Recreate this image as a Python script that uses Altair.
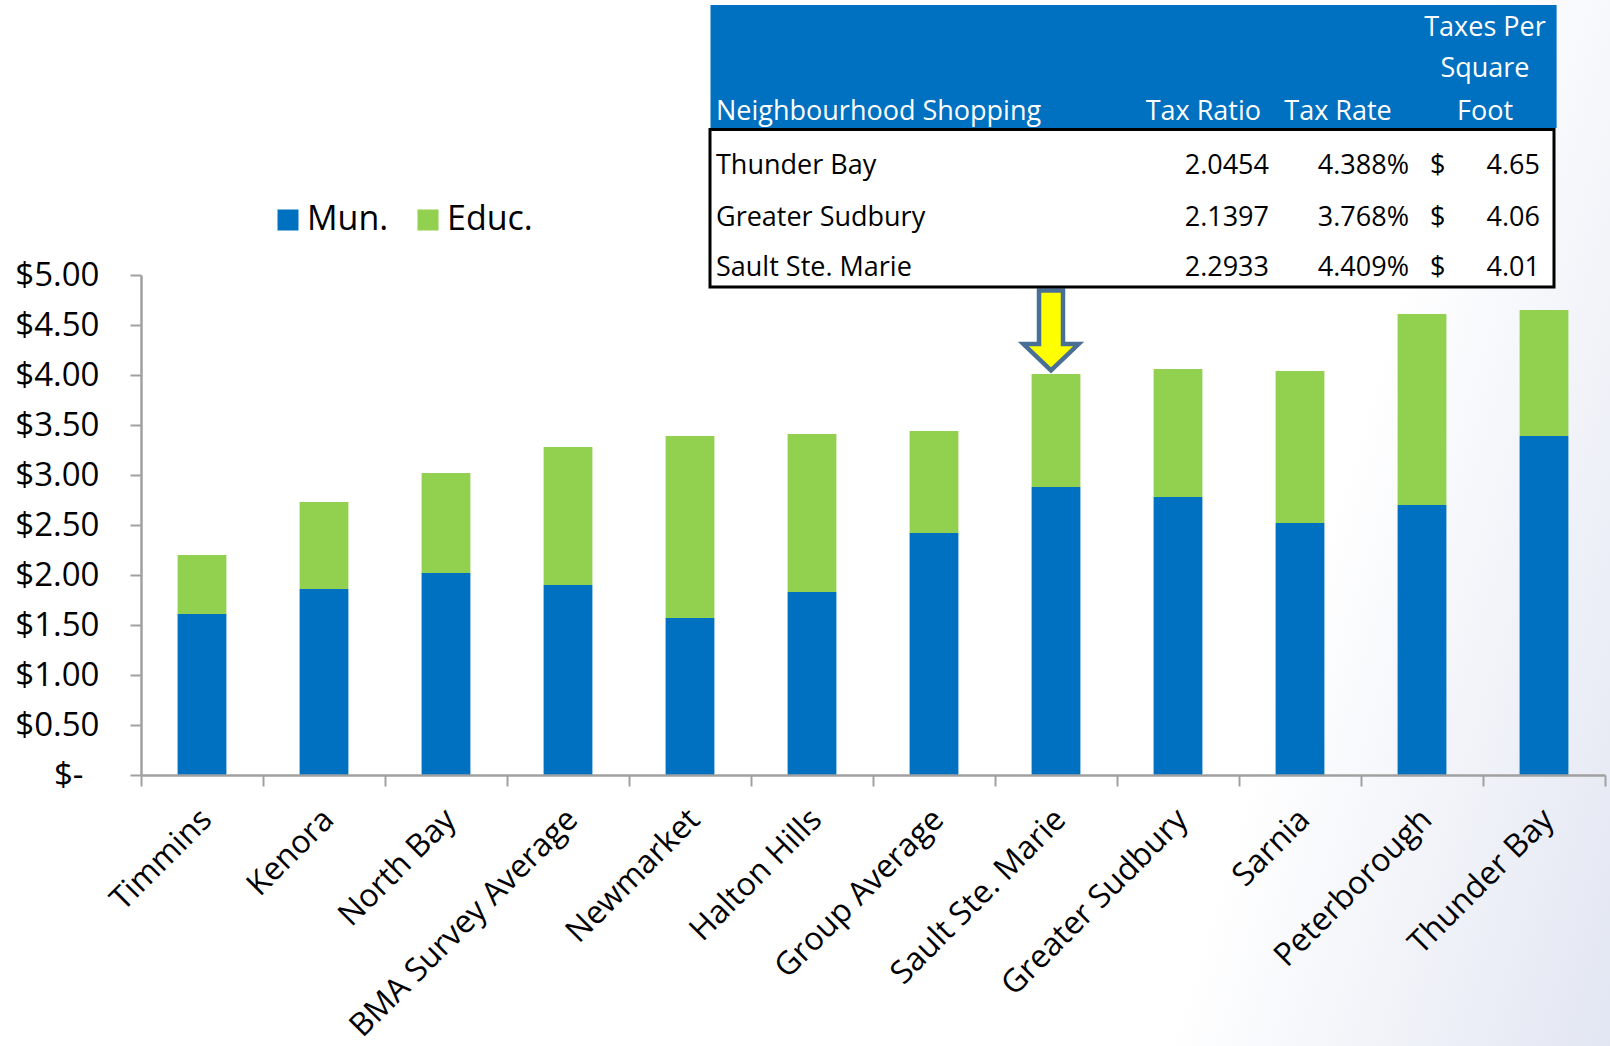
import altair as alt
import pandas as pd

# ---------------- data ----------------
cities = ["Timmins", "Kenora", "North Bay", "BMA Survey Average", "Newmarket",
          "Halton Hills", "Group Average", "Sault Ste. Marie", "Greater Sudbury",
          "Sarnia", "Peterborough", "Thunder Bay"]
mun = [1.61, 1.86, 2.02, 1.90, 1.57, 1.83, 2.42, 2.88, 2.78, 2.52, 2.70, 3.39]
educ = [0.59, 0.87, 1.00, 1.38, 1.82, 1.58, 1.02, 1.13, 1.28, 1.52, 1.91, 1.26]
series = ["Mun.", "Educ."]
series_colors = ["#0070C0", "#92D050"]
y_ticks = [0.0, 0.5, 1.0, 1.5, 2.0, 2.5, 3.0, 3.5, 4.0, 4.5, 5.0]

table_title = "Neighbourhood Shopping"
table_cols = ["Tax Ratio", "Tax Rate"]
table_psf_head = ["Taxes Per", "Square", "Foot"]
table_names = ["Thunder Bay", "Greater Sudbury", "Sault Ste. Marie"]
tax_ratio = ["2.0454", "2.1397", "2.2933"]
tax_rate = ["4.388%", "3.768%", "4.409%"]
tax_psf = ["4.65", "4.06", "4.01"]
highlight = "Sault Ste. Marie"

FONT = "Open Sans"
AXIS_GRAY = "#A0A0A0"

rows = []
for i, c in enumerate(cities):
    rows.append({"city": c, "part": "Mun.", "value": mun[i], "ord": 0})
    rows.append({"city": c, "part": "Educ.", "value": educ[i], "ord": 1})
df = pd.DataFrame(rows)

hi = cities.index(highlight)
arrow_df = pd.DataFrame({"city": [highlight], "value": [mun[hi] + educ[hi] + 0.435]})
one = pd.DataFrame({"k": [0]})

x_enc = alt.X("city:N", sort=cities,
              scale=alt.Scale(paddingInner=0, paddingOuter=0),
              axis=alt.Axis(title=None, labelAngle=-45, labelAlign="right",
                            labelBaseline="middle", labelFontSize=32, labelFont=FONT,
                            labelColor="black", labelPadding=28, labelOffset=4,
                            labelLimit=500, tickBand="extent", tickSize=11,
                            tickColor=AXIS_GRAY, tickWidth=2, domainColor=AXIS_GRAY,
                            domainWidth=2.5, zindex=1))
y_enc = alt.Y("value:Q", stack="zero",
              scale=alt.Scale(domain=[0, 5], nice=False),
              axis=alt.Axis(title=None, values=y_ticks,
                            labelExpr="datum.value == 0 ? '$-' : '$' + format(datum.value, '.2f')",
                            labelFontSize=33, labelFont=FONT, labelColor="black",
                            labelPadding={"condition": {"test": "datum.value == 0", "value": 47},
                                          "value": 31},
                            tickSize=11, tickColor=AXIS_GRAY, tickWidth=2,
                            domainColor=AXIS_GRAY, domainWidth=2.5, grid=False, zindex=1))

# background tint (lower right)
tint = alt.Chart(one).mark_rect(
    fill=alt.LinearGradient(gradient="linear", x1=0, y1=0.3, x2=1, y2=1,
                            stops=[alt.GradientStop(color="#FFFFFF", offset=0.35),
                                   alt.GradientStop(color="#E2E6F2", offset=1)])
).encode(x=alt.value(1009), x2=alt.value(1469), y=alt.value(-275), y2=alt.value(771))

bars = alt.Chart(df).mark_bar(width=alt.RelativeBandSize(0.4)).encode(
    x=x_enc,
    y=y_enc,
    color=alt.Color("part:N", scale=alt.Scale(domain=series, range=series_colors),
                    legend=alt.Legend(title=None, orient="none", legendX=130, legendY=-72,
                                      direction="horizontal", symbolType="square",
                                      symbolSize=441, symbolStrokeWidth=0,
                                      labelFontSize=34, labelFont=FONT, labelColor="black",
                                      labelOffset=2, columnPadding=22)),
    order=alt.Order("ord:Q"),
)

arrow_path = "M-0.3,-1L0.3,-1L0.3,0.34L0.69,0.34L0,1L-0.69,0.34L-0.3,0.34Z"
arrow = alt.Chart(arrow_df).mark_point(
    shape=arrow_path, size=6400, filled=True, fill="#FFFF00", stroke="#4A6F96",
    strokeWidth=4.5, opacity=1, fillOpacity=1, strokeOpacity=1, xOffset=-5
).encode(x=alt.X("city:N", sort=cities), y=alt.Y("value:Q"))

# table
head_rect = alt.Chart(one).mark_rect(fill="#0070C0").encode(
    x=alt.value(569.5), x2=alt.value(1415.6), y=alt.value(-270), y2=alt.value(-147))
body_rect = alt.Chart(one).mark_rect(fill="white", stroke="black", strokeWidth=3).encode(
    x=alt.value(569), x2=alt.value(1413), y=alt.value(-145.5), y2=alt.value(12))


def txt(s, x, y, align, color="black"):
    return alt.Chart(one).mark_text(align=align, baseline="middle", font=FONT,
                                    fontSize=27, color=color).encode(
        x=alt.value(x), y=alt.value(y), text=alt.value(s))


texts = [
    txt(table_title, 575, -163, "left", "white"),
    txt(table_cols[0], 1120, -163, "right", "white"),
    txt(table_cols[1], 1197, -163, "center", "white"),
    txt(table_psf_head[0], 1344, -247, "center", "white"),
    txt(table_psf_head[1], 1344, -206, "center", "white"),
    txt(table_psf_head[2], 1344, -163, "center", "white"),
]
row_y = [-109, -57, -7]
for i in range(len(table_names)):
    texts += [
        txt(table_names[i], 575, row_y[i], "left"),
        txt(tax_ratio[i], 1128, row_y[i], "right"),
        txt(tax_rate[i], 1268, row_y[i], "right"),
        txt("$", 1289, row_y[i], "left"),
        txt(tax_psf[i], 1399, row_y[i], "right"),
    ]

chart = alt.layer(tint, bars, arrow, head_rect, body_rect, *texts).properties(
    width=1464, height=500,
    autosize=alt.AutoSizeParams(type="none"),
    padding={"left": 141, "top": 275, "right": 5, "bottom": 271},
    background="white",
).configure_view(stroke=None)

chart.save("out.html", embed_options={"renderer": "svg", "actions": False})
